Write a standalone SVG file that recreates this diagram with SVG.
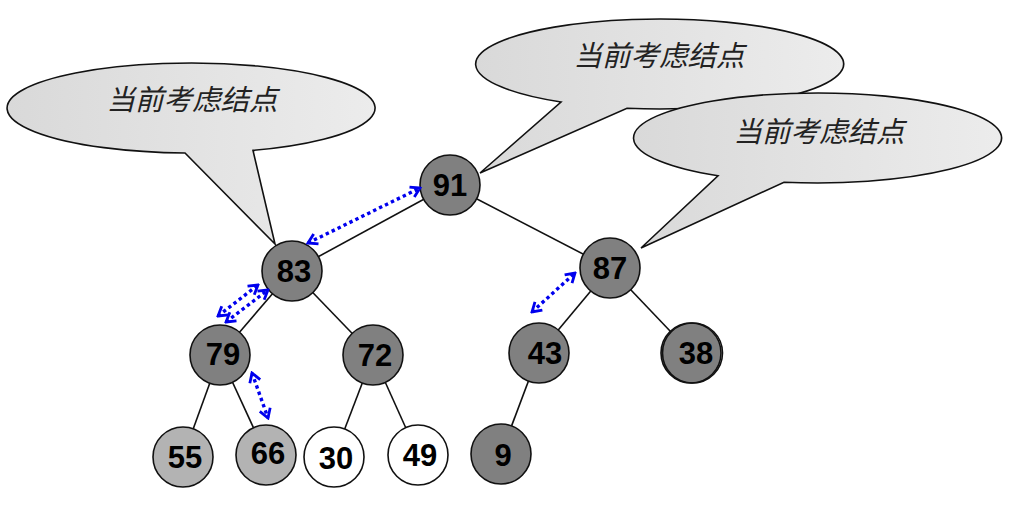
<svg xmlns="http://www.w3.org/2000/svg" width="1036" height="517" viewBox="0 0 1036 517">
  <style>
    .callout { fill: url(#cg); stroke: #111; stroke-width: 1.6; }
    .ctext { font-family: "Liberation Sans", "Noto Sans CJK SC", sans-serif; font-size: 28.5px; font-style: italic; fill: #222; text-anchor: middle; }
    .edge { stroke: #111; stroke-width: 1.6; fill: none; }
    .node circle { stroke: #111; stroke-width: 1.6; }
    .dark { fill: #808080; }
    .light { fill: #b3b3b3; }
    .white { fill: #ffffff; }
    .label { font-family: "Liberation Sans", Arial, sans-serif; font-weight: bold; font-size: 31px; fill: #000; text-anchor: middle; }
    .swap { stroke: #0000ee; stroke-width: 3.4; stroke-dasharray: 3.4 3.2; fill: none; marker-start: url(#head); marker-end: url(#head); }
  </style>
  <defs>
    <linearGradient id="cg" x1="0" y1="0" x2="1" y2="0">
      <stop offset="0" stop-color="#d9d9d9"/>
      <stop offset="1" stop-color="#ececec"/>
    </linearGradient>
    <marker id="head" viewBox="-1 -7 12 14" refX="9" refY="0" markerWidth="12" markerHeight="14" markerUnits="userSpaceOnUse" orient="auto-start-reverse">
      <path d="M0,-5.5 L9,0 L0,5.5" fill="none" stroke="#0000ee" stroke-width="2.8"/>
    </marker>
  </defs>

  <rect width="1036" height="517" fill="#ffffff"/>

  <!-- callouts -->
  <g id="callout-left">
    <path class="callout" d="M185,153 A184 45 0 1 1 253,150.4 L275,244 Z"/>
    <text class="ctext" x="192" y="110">当前考虑结点</text>
  </g>
  <g id="callout-top">
    <path class="callout" d="M561,102 A184 45 0 1 1 627,108.3 L480,173 Z"/>
    <text class="ctext" x="659" y="66">当前考虑结点</text>
  </g>
  <g id="callout-right">
    <path class="callout" d="M718,175.8 A184 45 0 1 1 784,182.2 L641,248 Z"/>
    <text class="ctext" x="819" y="142">当前考虑结点</text>
  </g>

  <!-- connectors -->
  <g id="connectors">
    <line class="edge" x1="450" y1="185" x2="292" y2="271"/>
    <line class="edge" x1="450" y1="185" x2="610" y2="268"/>
    <line class="edge" x1="292" y1="271" x2="220" y2="355"/>
    <line class="edge" x1="292" y1="271" x2="373" y2="355"/>
    <line class="edge" x1="220" y1="355" x2="183" y2="457"/>
    <line class="edge" x1="220" y1="355" x2="266" y2="455"/>
    <line class="edge" x1="373" y1="355" x2="334" y2="457"/>
    <line class="edge" x1="373" y1="355" x2="418" y2="455"/>
    <line class="edge" x1="610" y1="268" x2="539" y2="353"/>
    <line class="edge" x1="610" y1="268" x2="691" y2="353"/>
    <line class="edge" x1="539" y1="353" x2="501" y2="454"/>
  </g>

  <!-- nodes -->
  <g id="n91" class="node"><circle class="dark" cx="450" cy="185" r="30"/><text class="label" x="450" y="196">91</text></g>
  <g id="n83" class="node"><circle class="dark" cx="292" cy="271" r="30"/><text class="label" x="294" y="282">83</text></g>
  <g id="n87" class="node"><circle class="dark" cx="610" cy="268" r="30"/><text class="label" x="610" y="279">87</text></g>
  <g id="n79" class="node"><circle class="dark" cx="220" cy="355" r="30"/><text class="label" x="223" y="365">79</text></g>
  <g id="n72" class="node"><circle class="dark" cx="373" cy="355" r="30"/><text class="label" x="375" y="366">72</text></g>
  <g id="n43" class="node"><circle class="dark" cx="539" cy="353" r="30"/><text class="label" x="545" y="364">43</text></g>
  <g id="n38" class="node"><circle class="dark" cx="691" cy="353" r="30"/><circle cx="692.5" cy="353" r="30" fill="none"/><text class="label" x="696" y="364">38</text></g>
  <g id="n55" class="node"><circle class="light" cx="183" cy="457" r="30"/><text class="label" x="185" y="468">55</text></g>
  <g id="n66" class="node"><circle class="light" cx="266" cy="455" r="30"/><text class="label" x="268" y="464">66</text></g>
  <g id="n30" class="node"><circle class="white" cx="334" cy="457" r="30"/><text class="label" x="336" y="469">30</text></g>
  <g id="n49" class="node"><circle class="white" cx="418" cy="455" r="30"/><text class="label" x="420" y="466">49</text></g>
  <g id="n9" class="node"><circle class="dark" cx="501" cy="454" r="30"/><text class="label" x="503" y="466">9</text></g>

  <!-- swap arrows -->
  <g id="swaps">
    <line class="swap" x1="308" y1="243" x2="420" y2="188"/>
    <line class="swap" x1="218" y1="316" x2="258" y2="285"/>
    <line class="swap" x1="226" y1="322" x2="268" y2="290"/>
    <line class="swap" x1="252" y1="373" x2="268" y2="418"/>
    <line class="swap" x1="532" y1="312" x2="575" y2="273"/>
  </g>
</svg>
